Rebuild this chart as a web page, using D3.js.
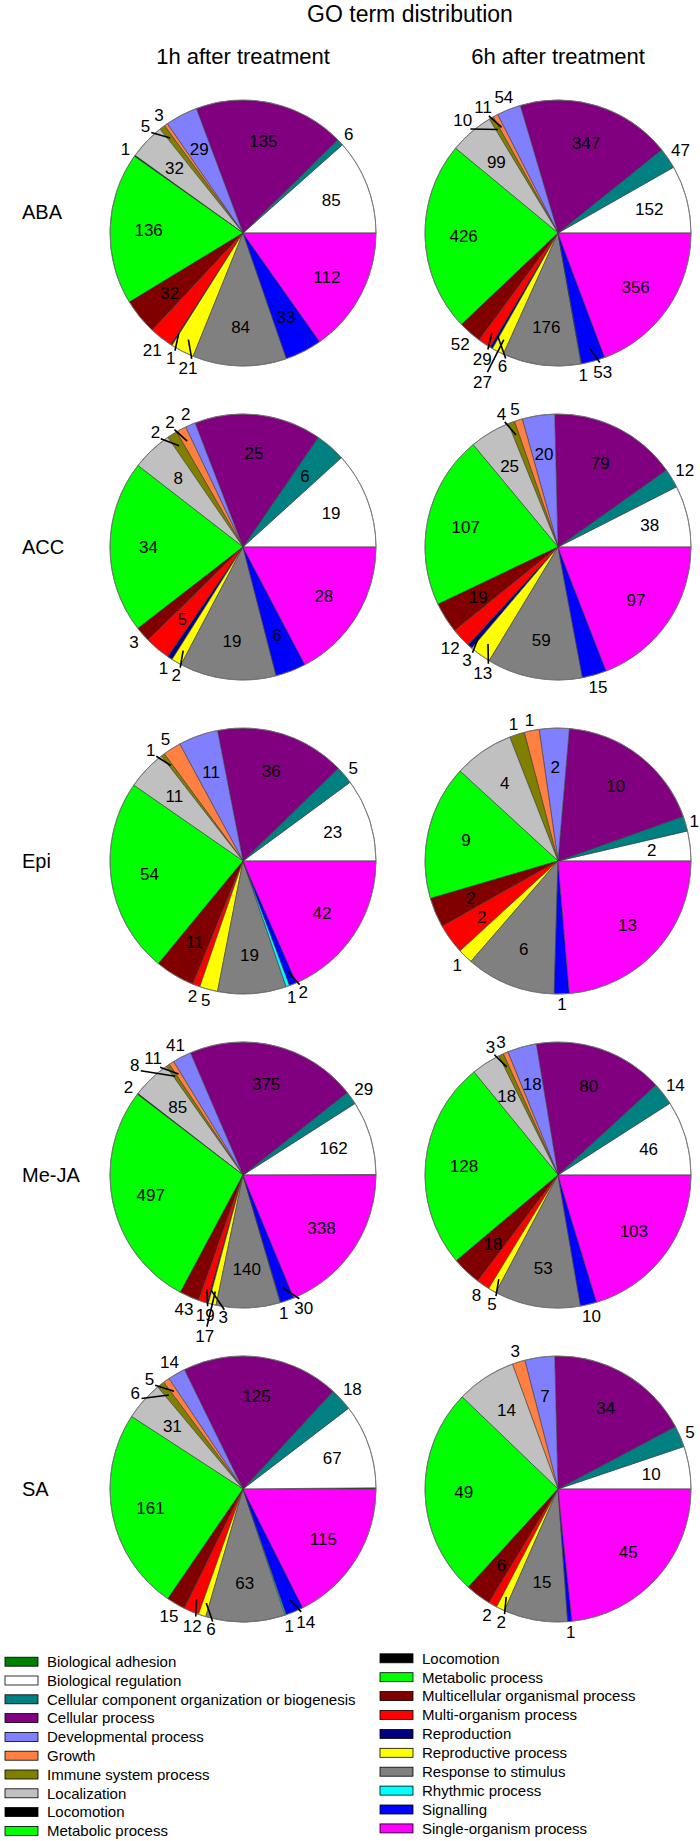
<!DOCTYPE html>
<html><head><meta charset="utf-8">
<script src="https://cdn.jsdelivr.net/npm/d3@7/dist/d3.min.js"></script>
<style>body{margin:0;background:#fff} svg text{font-family:"Liberation Sans",Arial,Helvetica,sans-serif;fill:#000}</style>
</head><body>
<svg id="c" width="700" height="1841"></svg>
<script>
const categories = ["Biological adhesion","Biological regulation","Cellular component organization or biogenesis","Cellular process","Developmental process","Growth","Immune system process","Localization","Locomotion","Metabolic process","Multicellular organismal process","Multi-organism process","Reproduction","Reproductive process","Response to stimulus","Rhythmic process","Signalling","Single-organism process"];
const colors = ["#008000","#ffffff","#008080","#800080","#8080ff","#ff8040","#808000","#c0c0c0","#000000","#00ff00","#800000","#ff0000","#000080","#ffff00","#808080","#00ffff","#0000ff","#ff00ff"];
const treatments = ["ABA","ACC","Epi","Me-JA","SA"];
const timepoints = ["1h after treatment","6h after treatment"];
const title = "GO term distribution";

// counts per category, in the order of `categories`
const ABA_1h  = [0,85,6,135,29,3,5,32,1,136,32,21,1,21,84,0,33,112];
const ABA_6h  = [0,152,47,347,54,11,10,99,0,426,52,29,6,27,176,1,53,356];
const ACC_1h  = [0,19,6,25,2,2,2,8,0,34,3,5,1,2,19,0,6,28];
const ACC_6h  = [0,38,12,79,20,5,4,25,0,107,19,12,3,13,59,0,15,97];
const Epi_1h  = [0,23,5,36,11,5,1,11,0,54,11,2,0,5,19,1,2,42];
const Epi_6h  = [0,2,1,10,2,1,1,4,0,9,2,2,0,1,6,0,1,13];
const MeJA_1h = [1,162,29,375,41,11,8,85,2,497,43,19,3,17,140,1,30,338];
const MeJA_6h = [0,46,14,80,18,3,3,18,0,128,18,8,0,5,53,0,10,103];
const SA_1h   = [1,67,18,125,14,5,6,31,0,161,15,12,0,6,63,1,14,115];
const SA_6h   = [0,10,5,34,7,3,0,14,0,49,6,2,0,2,15,0,1,45];

const unlabeled = ["Biological adhesion"];
const legendLeft = categories.slice(0, 10);
const legendRight = categories.slice(8);

const table = [[ABA_1h, ABA_6h],[ACC_1h, ACC_6h],[Epi_1h, Epi_6h],[MeJA_1h, MeJA_6h],[SA_1h, SA_6h]];

// ---------- layout ----------
const W = 700;
const R = 133;
const colX = d3.scalePoint().domain(timepoints).range([243, 558]);
const rowY = d3.scalePoint().domain(treatments).range([233, 1489]);
const color = d3.scaleOrdinal().domain(categories).range(colors);
const rowLabelDy = {"ABA": -21};

const svg = d3.select("#c");

svg.append("text").attr("x", 410).attr("y", 22).attr("text-anchor","middle")
  .style("font-size","23px").text(title);
svg.selectAll("text.hdr").data(timepoints).join("text").attr("class","hdr")
  .attr("x", d => colX(d)).attr("y", 64).attr("text-anchor","middle")
  .style("font-size","22px").text(d => d);
svg.selectAll("text.row").data(treatments).join("text").attr("class","row")
  .attr("x", 22).attr("y", d => rowY(d) + 7 + (rowLabelDy[d] || 0))
  .style("font-size","20px").text(d => d);

const pie = d3.pie().sort(null).value(d => d.v)
  .startAngle(Math.PI/2).endAngle(Math.PI/2 - 2*Math.PI);
const arc = d3.arc().innerRadius(0).outerRadius(R);

const FS = 17, DW = 0.556*FS, CH = 0.716*FS, HB = 0.88*FS;
const insideMin = 10.8 * Math.PI/180;
const step = 2.5 * Math.PI/180;

function overlaps(a, b, pad) {
  return a.x0 < b.x1 + pad && b.x0 < a.x1 + pad && a.y0 < b.y1 + pad && b.y0 < a.y1 + pad;
}

treatments.forEach((t, ri) => {
  timepoints.forEach((tp, ci) => {
    const vals = table[ri][ci];
    const cx = colX(tp), cy = rowY(t);
    const g = svg.append("g").attr("transform", `translate(${cx},${cy})`);
    const arcs = pie(vals.map((v, i) => ({c: categories[i], v})));
    g.selectAll("path").data(arcs.filter(a => a.data.v > 0)).join("path")
      .attr("d", arc).attr("fill", d => color(d.data.c))
      .attr("stroke", "#3a3a3a").attr("stroke-width", 0.6).attr("stroke-linejoin","round");
    g.append("circle").attr("r", R).attr("fill","none").attr("stroke","#777").attr("stroke-width",0.8);

    const placed = [];
    arcs.forEach(a => {
      if (a.data.v <= 0 || unlabeled.includes(a.data.c)) return;
      const txt = String(a.data.v);
      const w = DW * txt.length, h = CH;
      const span = Math.abs(a.endAngle - a.startAngle);
      const m = (a.startAngle + a.endAngle) / 2;
      if (span >= insideMin) {
        const x = Math.sin(m) * R * 0.71, y = -Math.cos(m) * R * 0.71;
        g.append("text").attr("x", x).attr("y", y + h/2).attr("text-anchor","middle")
          .style("font-size", FS + "px").text(txt);
        return;
      }
      let best = null;
      outer:
      for (const extra of [0, 10, 20, 30]) {
        for (const k of [0,-1,1,-2,2,-3,3,-4,4]) {
          const ang = m + k*step;
          const ux = Math.sin(ang), uy = -Math.cos(ang);
          const he = (w/2)*Math.abs(ux) + (h/2)*Math.abs(uy);
          const rr = R + 4 + extra + he;
          let x = ux*rr, y = uy*rr;
          const maxX = W - cx - w/2 - 1;
          if (x > maxX) x = maxX;
          const box = {x0: x - w/2, x1: x + w/2, y0: y - HB/2, y1: y + HB/2};
          if (!placed.some(b => overlaps(b, box, 1))) {
            best = {x, y, box, ux, uy, he, shifted: extra > 0 || k !== 0};
            break outer;
          }
        }
      }
      if (!best) return;
      placed.push(best.box);
      if (best.shifted) {
        const sx = Math.sin(m) * R * 0.9, sy = -Math.cos(m) * R * 0.9;
        const ex = best.x - best.ux*(best.he + 1), ey = best.y - best.uy*(best.he + 1);
        g.append("line").attr("x1", sx).attr("y1", sy).attr("x2", ex).attr("y2", ey)
          .attr("stroke","#000").attr("stroke-width",1.6);
      }
      g.append("text").attr("x", best.x).attr("y", best.y + h/2).attr("text-anchor","middle")
        .style("font-size", FS + "px").text(txt);
    });
  });
});

// ---------- legend ----------
function legendCol(items, x, y0, dy) {
  const lg = svg.append("g");
  const rows = lg.selectAll("g").data(items).join("g")
    .attr("transform", (d, i) => `translate(${x},${y0 + i*dy})`);
  rows.append("rect").attr("x", 0).attr("y", -4.5).attr("width", 33).attr("height", 9)
    .attr("fill", d => color(d)).attr("stroke","#000").attr("stroke-width",0.8);
  rows.append("text").attr("x", 42).attr("y", 5.3).style("font-size","15px").text(d => d);
}
legendCol(legendLeft, 5, 1661.7, 18.8);
legendCol(legendRight, 380, 1658.3, 18.9);
</script>
</body></html>
